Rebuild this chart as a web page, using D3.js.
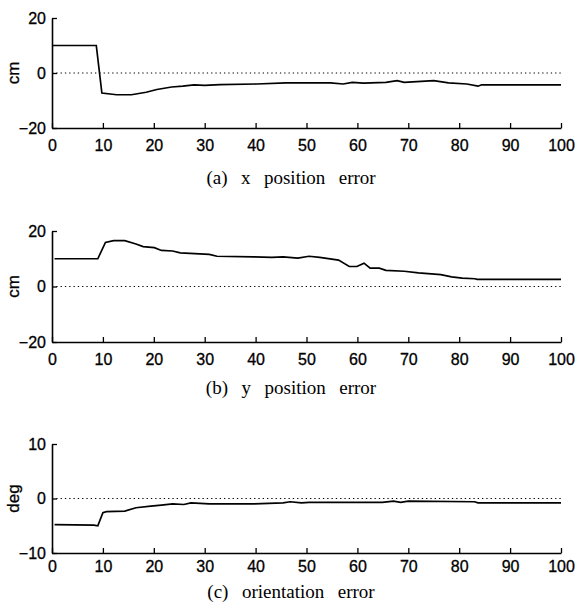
<!DOCTYPE html>
<html>
<head>
<meta charset="utf-8">
<script src="https://cdn.jsdelivr.net/npm/d3@7"></script>
<style>
  body { margin: 0; background: #fff; }
  svg { display: block; }
</style>
</head>
<body>
<div id="chart"></div>
<script>
// time ticks shared by all three panels
var timeTicks = [0, 10, 20, 30, 40, 50, 60, 70, 80, 90, 100];

// (a) x position error, cm  [time, value]
var xPosError = [
  [0, 10], [8.7, 10], [9.8, -7.3], [12.7, -7.9], [15.6, -7.9], [18.5, -7], [20.6, -6],
  [23.5, -5.1], [25.7, -4.8], [27.9, -4.3], [30, -4.5], [33, -4.2], [40.2, -4],
  [46, -3.6], [54.7, -3.6], [57.2, -4], [59, -3.4], [61.2, -3.7], [65.6, -3.4],
  [67.8, -2.8], [69.2, -3.4], [75, -2.8], [77.9, -3.6], [81.5, -4], [83.7, -4.8],
  [84.4, -4.3], [100, -4.3]
];

// (b) y position error, cm
var yPosError = [
  [0.5, 10], [9, 10], [10.5, 15.9], [12.1, 16.5], [14.3, 16.5], [16.5, 15.3],
  [17.9, 14.4], [20.1, 14], [21.5, 13], [23.7, 12.8], [25.2, 12.1], [30.9, 11.6],
  [32.4, 10.9], [39.6, 10.7], [43.2, 10.5], [45.4, 10.7], [48.3, 10.2], [50.5, 10.9],
  [52.6, 10.5], [56.3, 9.5], [58.4, 7.2], [59.9, 7.2], [61.3, 8.4], [62.5, 6.6],
  [64.3, 6.6], [65.6, 5.8], [69.2, 5.5], [72, 4.9], [76.4, 4.3], [78.5, 3.5],
  [80.6, 3], [83.1, 2.8], [83.5, 2.6], [100, 2.6]
];

// (c) orientation error, deg
var orientError = [
  [0.5, -4.8], [8.2, -4.9], [9, -5], [10, -2.6], [10.7, -2.4], [14.3, -2.3],
  [16.5, -1.7], [19.4, -1.4], [21.5, -1.2], [23.7, -1], [25.9, -1.1], [27.3, -0.8],
  [30.9, -1], [39.6, -1], [45.4, -0.8], [46.8, -0.6], [49, -0.8], [50.5, -0.7],
  [64.9, -0.7], [67.1, -0.5], [68.5, -0.7], [70, -0.5], [83, -0.6], [83.7, -0.8],
  [100, -0.8]
];

var panels = [
  { data: xPosError, yTicks: [-20, 0, 20], unit: 'cm', caption: '(a)  x  position  error', top: 18, bottom: 128, pad: 12, capY: 184 },
  { data: yPosError, yTicks: [-20, 0, 20], unit: 'cm', caption: '(b)  y  position  error', top: 231, bottom: 342, pad: 12, capY: 394 },
  { data: orientError, yTicks: [-10, 0, 10], unit: 'deg', caption: '(c)  orientation  error', top: 444, bottom: 553, pad: 8, capY: 598 }
];

var W = 577, H = 612;
var left = 52, right = 561;
var tickFont = 'Liberation Sans, Arial, sans-serif';

var svg = d3.select('#chart').append('svg')
  .attr('width', W)
  .attr('height', H);

var x = d3.scaleLinear().domain([0, 100]).range([left, right]);

panels.forEach(function (p) {
  var y = d3.scaleLinear()
    .domain([p.yTicks[0], p.yTicks[p.yTicks.length - 1]])
    .range([p.bottom, p.top]);

  var g = svg.append('g');

  // bottom axis, ticks pointing inward
  var xAxis = g.append('g')
    .attr('transform', `translate(0,${p.bottom})`)
    .call(d3.axisBottom(x).tickValues(timeTicks).tickSize(-5).tickPadding(p.pad).tickSizeOuter(0));
  xAxis.select('.domain').attr('stroke-width', 1.6);
  xAxis.selectAll('.tick line').attr('stroke-width', 1.3);
  xAxis.selectAll('text')
    .attr('font-family', tickFont)
    .attr('font-size', '16px')
    .attr('fill', '#000')
    .attr('stroke', '#000')
    .attr('stroke-width', 0.3);

  // left axis
  var yAxis = g.append('g')
    .attr('transform', `translate(${left},0)`)
    .call(d3.axisLeft(y).tickValues(p.yTicks).tickSize(-5).tickPadding(6).tickSizeOuter(0));
  yAxis.select('.domain').attr('stroke-width', 1.6);
  yAxis.selectAll('.tick line').attr('stroke-width', 1.3);
  yAxis.selectAll('text')
    .attr('font-family', tickFont)
    .attr('font-size', '16px')
    .attr('fill', '#000')
    .attr('stroke', '#000')
    .attr('stroke-width', 0.3);

  // dotted zero reference
  g.append('line')
    .attr('x1', x(0)).attr('x2', x(100))
    .attr('y1', y(0)).attr('y2', y(0))
    .attr('stroke', '#000')
    .attr('stroke-width', 1.1)
    .attr('stroke-dasharray', '1.3,3');

  // error trace
  g.append('path')
    .datum(p.data)
    .attr('fill', 'none')
    .attr('stroke', '#000')
    .attr('stroke-width', 1.7)
    .attr('d', d3.line().x(d => x(d[0])).y(d => y(d[1])));

  // unit label
  g.append('text')
    .attr('transform', `translate(19,${y(0)}) rotate(-90)`)
    .attr('text-anchor', 'middle')
    .attr('font-family', tickFont)
    .attr('font-size', '17px')
    .attr('stroke', '#000')
    .attr('stroke-width', 0.3)
    .text(p.unit);

  // caption
  g.append('text')
    .attr('x', 291)
    .attr('y', p.capY)
    .attr('text-anchor', 'middle')
    .attr('font-family', 'Liberation Serif, Times New Roman, serif')
    .attr('font-size', '19px')
    .attr('word-spacing', '2px')
    .style('white-space', 'pre')
    .text(p.caption);
});
</script>
</body>
</html>
